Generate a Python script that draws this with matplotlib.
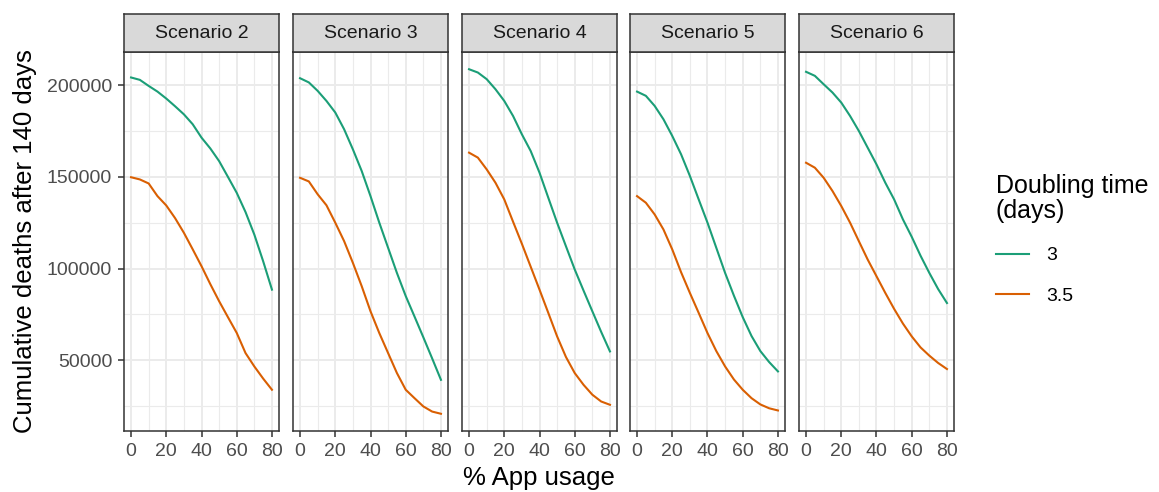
import matplotlib.pyplot as plt
from matplotlib.lines import Line2D

plt.rcParams['font.family'] = ['Liberation Sans', 'DejaVu Sans']

# % app usage
usage = [0, 5, 10, 15, 20, 25, 30, 35, 40, 45, 50, 55, 60, 65, 70, 75, 80]

scenarios = ['Scenario 2', 'Scenario 3', 'Scenario 4', 'Scenario 5', 'Scenario 6']

# cumulative deaths, doubling time 3 days
s2_dt3 = [204200, 202900, 199600, 196500, 192700, 188500, 184100, 178700, 171400,
          165500, 158600, 150000, 141300, 130800, 118500, 104000, 88500]
s3_dt3 = [203800, 201500, 196900, 191400, 185100, 176000, 165000, 153200, 139500,
          125000, 111300, 97600, 85000, 73800, 62500, 51000, 39300]
s4_dt3 = [208700, 206900, 203300, 197800, 191400, 183200, 173200, 164100, 152300,
          138600, 125000, 112200, 99500, 88000, 76700, 65500, 54800]
s5_dt3 = [196500, 194200, 188700, 181400, 172300, 162300, 150500, 137700, 125000,
          111300, 97600, 85200, 73500, 63200, 55000, 49000, 43900]
s6_dt3 = [207300, 205100, 200500, 196000, 190500, 183200, 175000, 165900, 156800,
          146800, 137700, 126800, 117300, 107000, 97600, 88800, 81200]

# cumulative deaths, doubling time 3.5 days
s2_dt35 = [149800, 148600, 146400, 139500, 134400, 127500, 119500, 110500, 101300,
           91500, 82200, 73500, 64900, 53900, 46600, 40000, 33900]
s3_dt35 = [149500, 147500, 140500, 134500, 125000, 115000, 103100, 90400, 76700,
           64800, 53900, 43000, 33900, 29300, 24800, 22000, 20800]
s4_dt35 = [163200, 160500, 154100, 146800, 137700, 125500, 113500, 101000, 88500,
           75800, 63000, 51800, 43000, 36600, 31200, 27500, 25700]
s5_dt35 = [139500, 135900, 129500, 121300, 110400, 98000, 86700, 75800, 64800,
           55000, 46600, 39500, 33900, 29300, 25900, 23800, 22600]
s6_dt35 = [157700, 155000, 149500, 142300, 134100, 125000, 114900, 104900, 95800,
           86700, 78000, 70000, 63000, 57000, 52500, 48500, 45200]

dt3 = [s2_dt3, s3_dt3, s4_dt3, s5_dt3, s6_dt3]
dt35 = [s2_dt35, s3_dt35, s4_dt35, s5_dt35, s6_dt35]
legend_labels = ['3', '3.5']
colors = ['#1B9E77', '#D95F02']

W, H = 1159, 492
fig = plt.figure(figsize=(W / 100, H / 100), dpi=100)

allv = [v for s in dt3 + dt35 for v in s]
lo, hi = min(allv), max(allv)
pad = (hi - lo) * 0.05

lefts = [124, 293, 462, 630, 799]
for i, left in enumerate(lefts):
    ax = fig.add_axes([left / W, 1 - 431 / H, 155 / W, 379 / H])
    ax.plot(usage, dt3[i], color=colors[0], lw=1.5)
    ax.plot(usage, dt35[i], color=colors[1], lw=1.5)
    ax.set_xlim(-4, 84)
    ax.set_ylim(lo - pad, hi + pad)
    ax.set_xticks([0, 20, 40, 60, 80])
    ax.set_xticks([10, 30, 50, 70], minor=True)
    ax.set_yticks([50000, 100000, 150000, 200000])
    ax.set_yticks([25000, 75000, 125000, 175000], minor=True)
    ax.grid(which='major', color='#EBEBEB', lw=1.4)
    ax.grid(which='minor', color='#EBEBEB', lw=0.8)
    ax.set_axisbelow(True)
    for sp in ax.spines.values():
        sp.set_color('#333333')
        sp.set_linewidth(1.1)
    ax.tick_params(which='major', length=4.5, width=1.1, color='#333333',
                   labelsize=14, labelcolor='#4D4D4D', pad=4)
    ax.tick_params(which='minor', length=0)
    if i > 0:
        ax.tick_params(axis='y', which='major', length=0, labelleft=False)

    strip = fig.add_axes([left / W, 1 - 52 / H, 155 / W, 38 / H])
    strip.set_facecolor('#D9D9D9')
    strip.set_xticks([])
    strip.set_yticks([])
    for sp in strip.spines.values():
        sp.set_color('#333333')
        sp.set_linewidth(1.1)
    strip.text(0.5, 0.5, scenarios[i], ha='center', va='center', fontsize=14,
               color='#1A1A1A', transform=strip.transAxes)

fig.text(25 / W, 1 - 241.5 / H, 'Cumulative deaths after 140 days', rotation=90,
         ha='center', va='center', fontsize=18.5)
fig.text(539 / W, 1 - 478 / H, '% App usage', ha='center', va='center', fontsize=18.5)

handles = [Line2D([], [], color=c, lw=1.5) for c in colors]
leg = fig.legend(handles, legend_labels, title='Doubling time\n(days)',
                 loc='upper left', bbox_to_anchor=(978 / W, 1 - 156 / H),
                 frameon=False, fontsize=14, title_fontsize=18,
                 handlelength=1.7, handletextpad=0.9, labelspacing=1.2,
                 alignment='left')
leg.get_title().set_linespacing(1.1)

fig.savefig('out.png', dpi=100)
